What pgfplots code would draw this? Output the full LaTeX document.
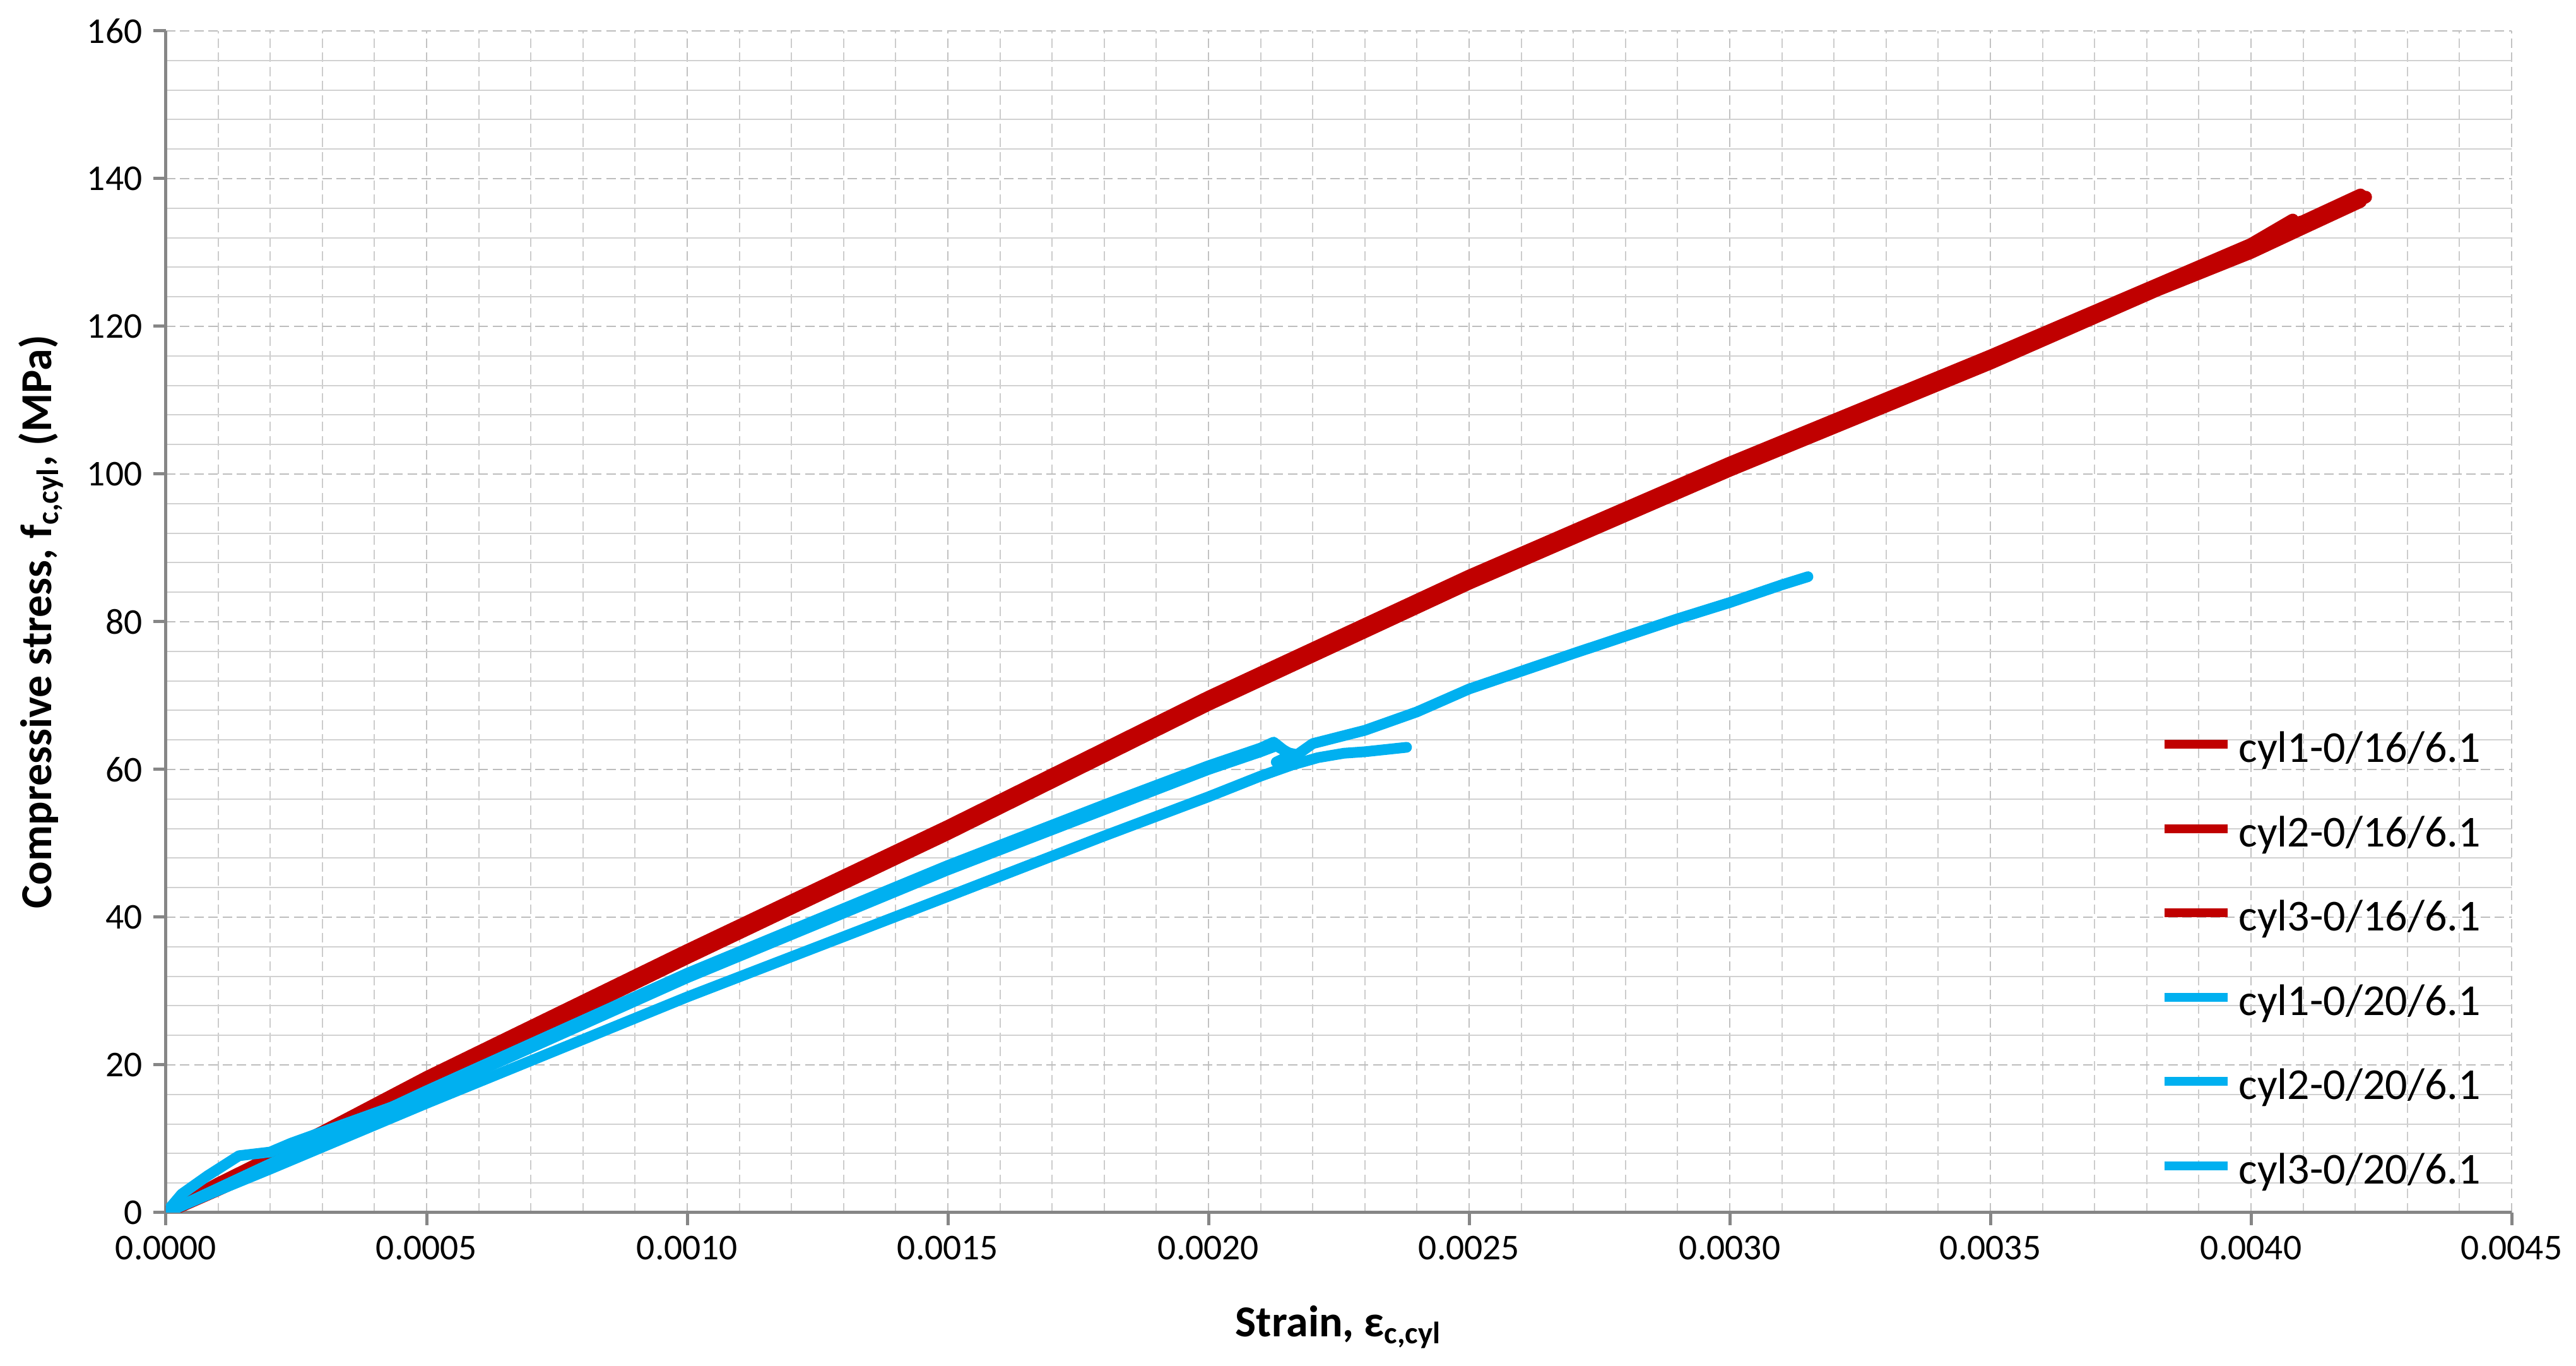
\documentclass[border=0pt]{standalone}
\usepackage{fontspec}
\setmainfont{Carlito}
\usepackage{pgfplots}
\pgfplotsset{compat=1.18}

\definecolor{exred}{HTML}{C00000}
\definecolor{exblue}{HTML}{00B0F0}
\definecolor{axgray}{HTML}{868686}

\begin{document}
\begin{tikzpicture}
\begin{axis}[
  width=743.4pt, height=374.4pt, scale only axis,
  xmin=0, xmax=0.0045, ymin=0, ymax=160,
  xtick={0,0.0005,0.0010,0.0015,0.0020,0.0025,0.0030,0.0035,0.0040,0.0045},
  ytick={0,20,40,60,80,100,120,140,160},
  minor x tick num=4, minor y tick num=4,
  scaled x ticks=false,
  xticklabel style={/pgf/number format/.cd, fixed, fixed zerofill, precision=4},
  /pgf/number format/assume math mode=true,
  ticklabel style={font=\fontsize{11.5}{13}\selectfont, text=black},
  grid=both,
  major x grid style={black!24, dash pattern=on 3pt off 1.5pt},
  minor x grid style={black!20, dash pattern=on 3pt off 1.5pt},
  major y grid style={black!26, dash pattern=on 3pt off 1.5pt},
  minor y grid style={black!18},
  axis x line*=bottom, axis y line*=left,
  axis line style={axgray, line width=1pt, -},
  tick align=outside, major tick length=4pt, minor tick length=0pt,
  major tick style={axgray, line width=1pt},
  label style={font=\bfseries\fontsize{14}{16}\selectfont},
  xlabel={Strain, ε\textsubscript{c,cyl}},
  ylabel={Compressive stress, f\textsubscript{c,cyl}, (MPa)},
  xlabel style={at={(axis description cs:0.5,-0.097)}, anchor=center},
  ylabel style={at={(axis description cs:-0.0533,0.5)}, anchor=center},
  legend cell align=left,
  legend style={draw=none, fill=none, inner sep=0pt, column sep=2pt, row sep=13.7pt,
    font=\fontsize{14}{16}\selectfont,
    nodes={inner sep=0pt, text height=10pt, text depth=3pt},
    at={(rel axis cs:0.850,0.0158)}, anchor=south west},
  legend image code/.code={\draw[#1, line width=2.8pt, line cap=butt] (0pt,2.2pt) -- (20pt,2.2pt);},
  every axis plot/.append style={line join=round, line cap=round},
]
% red series
\addplot[exred, line width=4pt] coordinates {
(0,0) (0.0001,3.5) (0.0002,6.9) (0.0003,10.4) (0.0005,17.8) (0.0010,35.0)
(0.0015,51.8) (0.0020,69.3) (0.0025,85.7) (0.0030,101.0) (0.0035,115.5)
(0.0040,130.5) (0.0041,133.8) (0.00422,137.5)};
\addplot[exred, line width=4pt] coordinates {
(0,0) (0.0001,3.9) (0.0002,7.4) (0.0003,10.9) (0.0005,18.3) (0.0010,35.5)
(0.0015,52.3) (0.0020,69.8) (0.0025,86.2) (0.0030,101.5) (0.0035,116.0)
(0.0040,131.1) (0.00408,134.4) (0.00406,133.4) (0.0041,134.2) (0.00421,137.8)};
\addplot[exred, line width=4pt] coordinates {
(0,0) (0.0001,3.1) (0.0002,6.4) (0.0003,9.9) (0.0005,17.3) (0.0010,34.5)
(0.0015,51.3) (0.0020,68.8) (0.0025,85.2) (0.0030,100.5) (0.0035,115.0)
(0.00382,124.9) (0.0040,130.0) (0.0041,133.3) (0.00421,136.9)};
% blue series
\addplot[exblue, line width=3.4pt] coordinates {
(0,0) (0.0001,3.3) (0.0002,6.6) (0.0005,16.5) (0.0010,32.4) (0.00113,36.2)
(0.0015,47.0) (0.0018,55.2) (0.0020,60.5) (0.0021,62.9) (0.002125,63.7)
(0.00215,62.3) (0.00217,62.0) (0.0022,63.5) (0.0023,65.3) (0.0024,67.8)
(0.0025,70.9) (0.0027,75.7) (0.0029,80.4) (0.0030,82.6) (0.0031,85.0) (0.00315,86.1)};
\addplot[exblue, line width=3.4pt] coordinates {
(0,0) (0.0001,3.0) (0.0002,5.9) (0.0005,14.8) (0.0010,29.2) (0.0015,42.8)
(0.0018,51.0) (0.0020,56.3) (0.0021,59.1) (0.00216,60.6) (0.00221,61.6)
(0.00226,62.2) (0.0023,62.4) (0.00234,62.7) (0.00238,63.0)};
\addplot[exblue, line width=3.4pt] coordinates {
(0,0) (0.00003,2.5) (0.00008,5.0) (0.00014,7.7) (0.00020,8.2) (0.00024,9.4)
(0.0005,16.0) (0.0010,31.8) (0.0015,46.4) (0.0020,60.0) (0.0021,62.4)
(0.00213,63.2) (0.00216,62.0) (0.00213,61.0)};
\legend{cyl1-0/16/6.1, cyl2-0/16/6.1, cyl3-0/16/6.1, cyl1-0/20/6.1, cyl2-0/20/6.1, cyl3-0/20/6.1}
\end{axis}
\pgfresetboundingbox
\path (current axis.south west) ++(-52.6pt,-48.6pt) coordinate (bl);
\path (current axis.north east) ++(20.4pt,9.8pt) coordinate (tr);
\path[use as bounding box] (bl) rectangle (tr);
\end{tikzpicture}
\end{document}
